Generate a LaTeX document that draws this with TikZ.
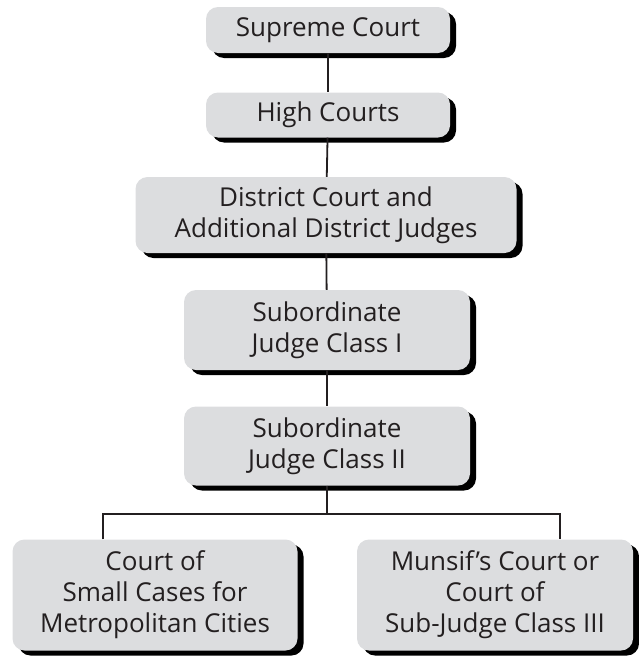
\documentclass[tikz,border=0pt]{standalone}
\usepackage{fontspec}
\setmainfont{Open Sans}
\usetikzlibrary{shadows}
\definecolor{boxgray}{HTML}{DCDDDF}
\definecolor{inkgray}{HTML}{231F20}
\begin{document}
\begin{tikzpicture}[x=1pt, y=-1pt,
  font=\fontsize{26}{31}\selectfont,
  court/.style={
    rounded corners=12pt,
    fill=boxgray,
    text=inkgray,
    inner sep=0pt,
    align=center,
    general shadow={fill=black, shadow xshift=6pt, shadow yshift=-5pt}
  },
  link/.style={line width=1.8pt, inkgray}
]
  \useasboundingbox (0,0) rectangle (639,656);
  \node[court, minimum width=244pt, minimum height=46pt] (supreme)  at (328, 30)
        {Supreme Court};
  \node[court, minimum width=244pt, minimum height=45pt] (high)     at (328,115)
        {High Courts};
  \node[court, minimum width=381pt, minimum height=76pt] (district) at (326,215)
        {District Court and\\Additional District Judges};
  \node[court, minimum width=286pt, minimum height=80pt] (subI)     at (327,330)
        {Subordinate\\Judge Class I};
  \node[court, minimum width=286pt, minimum height=79pt] (subII)    at (327,446)
        {Subordinate\\Judge Class II};
  \node[court, minimum width=285pt, minimum height=111pt] (small)   at (155,595)
        {Court of\\Small Cases for\\Metropolitan Cities};
  \node[court, minimum width=276pt, minimum height=111pt] (munsif)  at (495,595)
        {Munsif's Court or\\Court of\\Sub-Judge Class III};
  \draw[link] (supreme) -- (high);
  \draw[link] (high) -- (district);
  \draw[link] (district) -- (subI);
  \draw[link] (subI) -- (subII);
  % branch to the two lowest courts
  \coordinate (busL) at (103,514);
  \coordinate (busR) at (560,514);
  \draw[link] (subII) -- (subII |- busL);
  \draw[link] (busL |- small.north) -- (busL) -- (busR) -- (busR |- munsif.north);
\end{tikzpicture}
\end{document}
